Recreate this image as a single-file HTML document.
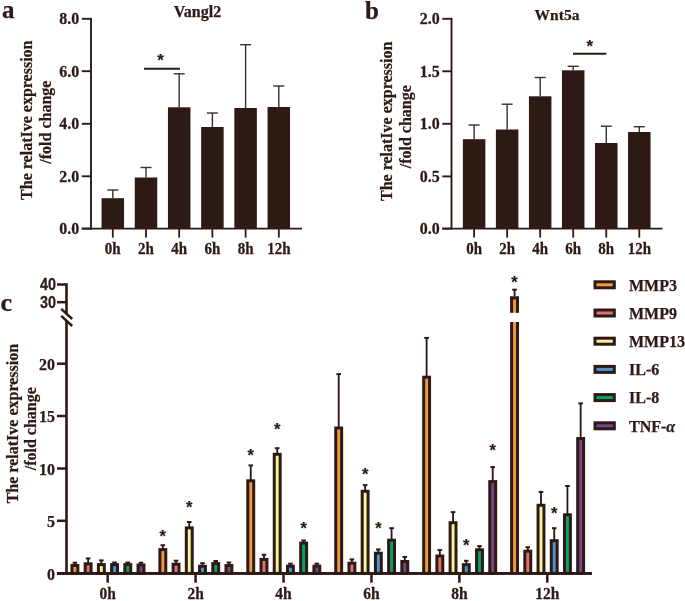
<!DOCTYPE html>
<html><head><meta charset="utf-8"><style>
html,body{margin:0;padding:0;background:#fff;}
svg{display:block;will-change:transform;}
text{stroke:#2d1a14;stroke-width:0.25px;}
</style></head><body>
<svg width="685" height="601" viewBox="0 0 685 601">
<rect width="685" height="601" fill="#fff"/>
<line x1="91.00" y1="17.90" x2="91.00" y2="229.50" stroke="#2d1a14" stroke-width="1.9" />
<line x1="81.80" y1="18.80" x2="91.00" y2="18.80" stroke="#2d1a14" stroke-width="1.9" />
<text transform="translate(79.20,24.30) scale(1,1.045)" font-family="Liberation Serif" font-size="16" font-weight="bold" text-anchor="end" fill="#2d1a14" >8.0</text>
<line x1="81.80" y1="71.20" x2="91.00" y2="71.20" stroke="#2d1a14" stroke-width="1.9" />
<text transform="translate(79.20,76.70) scale(1,1.045)" font-family="Liberation Serif" font-size="16" font-weight="bold" text-anchor="end" fill="#2d1a14" >6.0</text>
<line x1="81.80" y1="123.80" x2="91.00" y2="123.80" stroke="#2d1a14" stroke-width="1.9" />
<text transform="translate(79.20,129.30) scale(1,1.045)" font-family="Liberation Serif" font-size="16" font-weight="bold" text-anchor="end" fill="#2d1a14" >4.0</text>
<line x1="81.80" y1="176.30" x2="91.00" y2="176.30" stroke="#2d1a14" stroke-width="1.9" />
<text transform="translate(79.20,181.80) scale(1,1.045)" font-family="Liberation Serif" font-size="16" font-weight="bold" text-anchor="end" fill="#2d1a14" >2.0</text>
<line x1="81.80" y1="228.60" x2="91.00" y2="228.60" stroke="#2d1a14" stroke-width="1.9" />
<text transform="translate(79.20,234.10) scale(1,1.045)" font-family="Liberation Serif" font-size="16" font-weight="bold" text-anchor="end" fill="#2d1a14" >0.0</text>
<line x1="81.80" y1="228.60" x2="302.00" y2="228.60" stroke="#2d1a14" stroke-width="1.9" />
<line x1="112.80" y1="190.00" x2="112.80" y2="198.20" stroke="#3d2d2a" stroke-width="1.4" />
<line x1="107.30" y1="190.00" x2="118.30" y2="190.00" stroke="#3d2d2a" stroke-width="1.4" />
<rect x="101.55" y="198.20" width="22.50" height="30.40" fill="#2d1a14"/>
<line x1="112.80" y1="228.60" x2="112.80" y2="237.60" stroke="#2d1a14" stroke-width="1.8" />
<text transform="translate(112.80,254.20) scale(1,1.08)" font-family="Liberation Serif" font-size="15" font-weight="bold" text-anchor="middle" fill="#2d1a14" >0h</text>
<line x1="146.00" y1="167.50" x2="146.00" y2="177.50" stroke="#3d2d2a" stroke-width="1.4" />
<line x1="140.50" y1="167.50" x2="151.50" y2="167.50" stroke="#3d2d2a" stroke-width="1.4" />
<rect x="134.75" y="177.50" width="22.50" height="51.10" fill="#2d1a14"/>
<line x1="146.00" y1="228.60" x2="146.00" y2="237.60" stroke="#2d1a14" stroke-width="1.8" />
<text transform="translate(146.00,254.20) scale(1,1.08)" font-family="Liberation Serif" font-size="15" font-weight="bold" text-anchor="middle" fill="#2d1a14" >2h</text>
<line x1="179.20" y1="73.80" x2="179.20" y2="107.30" stroke="#3d2d2a" stroke-width="1.4" />
<line x1="173.70" y1="73.80" x2="184.70" y2="73.80" stroke="#3d2d2a" stroke-width="1.4" />
<rect x="167.95" y="107.30" width="22.50" height="121.30" fill="#2d1a14"/>
<line x1="179.20" y1="228.60" x2="179.20" y2="237.60" stroke="#2d1a14" stroke-width="1.8" />
<text transform="translate(179.20,254.20) scale(1,1.08)" font-family="Liberation Serif" font-size="15" font-weight="bold" text-anchor="middle" fill="#2d1a14" >4h</text>
<line x1="212.40" y1="113.00" x2="212.40" y2="127.00" stroke="#3d2d2a" stroke-width="1.4" />
<line x1="206.90" y1="113.00" x2="217.90" y2="113.00" stroke="#3d2d2a" stroke-width="1.4" />
<rect x="201.15" y="127.00" width="22.50" height="101.60" fill="#2d1a14"/>
<line x1="212.40" y1="228.60" x2="212.40" y2="237.60" stroke="#2d1a14" stroke-width="1.8" />
<text transform="translate(212.40,254.20) scale(1,1.08)" font-family="Liberation Serif" font-size="15" font-weight="bold" text-anchor="middle" fill="#2d1a14" >6h</text>
<line x1="245.60" y1="44.70" x2="245.60" y2="108.00" stroke="#3d2d2a" stroke-width="1.4" />
<line x1="240.10" y1="44.70" x2="251.10" y2="44.70" stroke="#3d2d2a" stroke-width="1.4" />
<rect x="234.35" y="108.00" width="22.50" height="120.60" fill="#2d1a14"/>
<line x1="245.60" y1="228.60" x2="245.60" y2="237.60" stroke="#2d1a14" stroke-width="1.8" />
<text transform="translate(245.60,254.20) scale(1,1.08)" font-family="Liberation Serif" font-size="15" font-weight="bold" text-anchor="middle" fill="#2d1a14" >8h</text>
<line x1="278.80" y1="86.00" x2="278.80" y2="107.00" stroke="#3d2d2a" stroke-width="1.4" />
<line x1="273.30" y1="86.00" x2="284.30" y2="86.00" stroke="#3d2d2a" stroke-width="1.4" />
<rect x="267.55" y="107.00" width="22.50" height="121.60" fill="#2d1a14"/>
<line x1="278.80" y1="228.60" x2="278.80" y2="237.60" stroke="#2d1a14" stroke-width="1.8" />
<text transform="translate(278.80,254.20) scale(1,1.08)" font-family="Liberation Serif" font-size="15" font-weight="bold" text-anchor="middle" fill="#2d1a14" >12h</text>
<line x1="144.00" y1="68.80" x2="180.00" y2="68.80" stroke="#2d1a14" stroke-width="2.0" />
<text x="160.55" y="66.27" font-family="Liberation Sans" font-size="17" font-weight="bold" text-anchor="middle" fill="#2d1a14" >*</text>
<text x="197.50" y="17.30" font-family="Liberation Serif" font-size="16" font-weight="bold" text-anchor="middle" fill="#2d1a14" >Vangl2</text>
<line x1="451.50" y1="17.90" x2="451.50" y2="229.50" stroke="#2d1a14" stroke-width="1.9" />
<line x1="442.30" y1="18.80" x2="451.50" y2="18.80" stroke="#2d1a14" stroke-width="1.9" />
<text transform="translate(439.70,24.30) scale(1,1.045)" font-family="Liberation Serif" font-size="16" font-weight="bold" text-anchor="end" fill="#2d1a14" >2.0</text>
<line x1="442.30" y1="71.30" x2="451.50" y2="71.30" stroke="#2d1a14" stroke-width="1.9" />
<text transform="translate(439.70,76.80) scale(1,1.045)" font-family="Liberation Serif" font-size="16" font-weight="bold" text-anchor="end" fill="#2d1a14" >1.5</text>
<line x1="442.30" y1="123.80" x2="451.50" y2="123.80" stroke="#2d1a14" stroke-width="1.9" />
<text transform="translate(439.70,129.30) scale(1,1.045)" font-family="Liberation Serif" font-size="16" font-weight="bold" text-anchor="end" fill="#2d1a14" >1.0</text>
<line x1="442.30" y1="176.40" x2="451.50" y2="176.40" stroke="#2d1a14" stroke-width="1.9" />
<text transform="translate(439.70,181.90) scale(1,1.045)" font-family="Liberation Serif" font-size="16" font-weight="bold" text-anchor="end" fill="#2d1a14" >0.5</text>
<line x1="442.30" y1="228.60" x2="451.50" y2="228.60" stroke="#2d1a14" stroke-width="1.9" />
<text transform="translate(439.70,234.10) scale(1,1.045)" font-family="Liberation Serif" font-size="16" font-weight="bold" text-anchor="end" fill="#2d1a14" >0.0</text>
<line x1="442.30" y1="228.60" x2="662.50" y2="228.60" stroke="#2d1a14" stroke-width="1.9" />
<line x1="474.10" y1="125.00" x2="474.10" y2="139.20" stroke="#3d2d2a" stroke-width="1.4" />
<line x1="468.60" y1="125.00" x2="479.60" y2="125.00" stroke="#3d2d2a" stroke-width="1.4" />
<rect x="462.85" y="139.20" width="22.50" height="89.40" fill="#2d1a14"/>
<line x1="474.10" y1="228.60" x2="474.10" y2="237.60" stroke="#2d1a14" stroke-width="1.8" />
<text transform="translate(474.10,254.20) scale(1,1.08)" font-family="Liberation Serif" font-size="15" font-weight="bold" text-anchor="middle" fill="#2d1a14" >0h</text>
<line x1="507.14" y1="104.20" x2="507.14" y2="129.50" stroke="#3d2d2a" stroke-width="1.4" />
<line x1="501.64" y1="104.20" x2="512.64" y2="104.20" stroke="#3d2d2a" stroke-width="1.4" />
<rect x="495.89" y="129.50" width="22.50" height="99.10" fill="#2d1a14"/>
<line x1="507.14" y1="228.60" x2="507.14" y2="237.60" stroke="#2d1a14" stroke-width="1.8" />
<text transform="translate(507.14,254.20) scale(1,1.08)" font-family="Liberation Serif" font-size="15" font-weight="bold" text-anchor="middle" fill="#2d1a14" >2h</text>
<line x1="540.18" y1="77.50" x2="540.18" y2="96.30" stroke="#3d2d2a" stroke-width="1.4" />
<line x1="534.68" y1="77.50" x2="545.68" y2="77.50" stroke="#3d2d2a" stroke-width="1.4" />
<rect x="528.93" y="96.30" width="22.50" height="132.30" fill="#2d1a14"/>
<line x1="540.18" y1="228.60" x2="540.18" y2="237.60" stroke="#2d1a14" stroke-width="1.8" />
<text transform="translate(540.18,254.20) scale(1,1.08)" font-family="Liberation Serif" font-size="15" font-weight="bold" text-anchor="middle" fill="#2d1a14" >4h</text>
<line x1="573.22" y1="66.30" x2="573.22" y2="70.30" stroke="#3d2d2a" stroke-width="1.4" />
<line x1="567.72" y1="66.30" x2="578.72" y2="66.30" stroke="#3d2d2a" stroke-width="1.4" />
<rect x="561.97" y="70.30" width="22.50" height="158.30" fill="#2d1a14"/>
<line x1="573.22" y1="228.60" x2="573.22" y2="237.60" stroke="#2d1a14" stroke-width="1.8" />
<text transform="translate(573.22,254.20) scale(1,1.08)" font-family="Liberation Serif" font-size="15" font-weight="bold" text-anchor="middle" fill="#2d1a14" >6h</text>
<line x1="606.26" y1="126.20" x2="606.26" y2="143.00" stroke="#3d2d2a" stroke-width="1.4" />
<line x1="600.76" y1="126.20" x2="611.76" y2="126.20" stroke="#3d2d2a" stroke-width="1.4" />
<rect x="595.01" y="143.00" width="22.50" height="85.60" fill="#2d1a14"/>
<line x1="606.26" y1="228.60" x2="606.26" y2="237.60" stroke="#2d1a14" stroke-width="1.8" />
<text transform="translate(606.26,254.20) scale(1,1.08)" font-family="Liberation Serif" font-size="15" font-weight="bold" text-anchor="middle" fill="#2d1a14" >8h</text>
<line x1="639.30" y1="126.70" x2="639.30" y2="132.00" stroke="#3d2d2a" stroke-width="1.4" />
<line x1="633.80" y1="126.70" x2="644.80" y2="126.70" stroke="#3d2d2a" stroke-width="1.4" />
<rect x="628.05" y="132.00" width="22.50" height="96.60" fill="#2d1a14"/>
<line x1="639.30" y1="228.60" x2="639.30" y2="237.60" stroke="#2d1a14" stroke-width="1.8" />
<text transform="translate(639.30,254.20) scale(1,1.08)" font-family="Liberation Serif" font-size="15" font-weight="bold" text-anchor="middle" fill="#2d1a14" >12h</text>
<line x1="573.00" y1="53.80" x2="606.30" y2="53.80" stroke="#2d1a14" stroke-width="2.0" />
<text x="589.80" y="51.97" font-family="Liberation Sans" font-size="17" font-weight="bold" text-anchor="middle" fill="#2d1a14" >*</text>
<text x="557.00" y="19.60" font-family="Liberation Serif" font-size="15.5" font-weight="bold" text-anchor="middle" fill="#2d1a14" >Wnt5a</text>
<text transform="translate(31.5,120.2) rotate(-90)" font-family="Liberation Serif" font-size="16" font-weight="bold" text-anchor="middle" fill="#2d1a14">The relatIve expression</text>
<text transform="translate(50.5,122.1) rotate(-90)" font-family="Liberation Serif" font-size="16" font-weight="bold" text-anchor="middle" fill="#2d1a14">/fold change</text>
<text transform="translate(392.2,121.3) rotate(-90)" font-family="Liberation Serif" font-size="16" font-weight="bold" text-anchor="middle" fill="#2d1a14">The relatIve expression</text>
<text transform="translate(411.0,126.7) rotate(-90)" font-family="Liberation Serif" font-size="16" font-weight="bold" text-anchor="middle" fill="#2d1a14">/fold change</text>
<text transform="translate(17.9,423.6) rotate(-90)" font-family="Liberation Serif" font-size="16" font-weight="bold" text-anchor="middle" fill="#2d1a14">The relatIve expression</text>
<text transform="translate(36.2,428.7) rotate(-90)" font-family="Liberation Serif" font-size="16" font-weight="bold" text-anchor="middle" fill="#2d1a14">/fold change</text>
<text x="2.00" y="18.00" font-family="Liberation Serif" font-size="25" font-weight="bold" text-anchor="start" fill="#2d1a14" >a</text>
<text x="364.90" y="19.00" font-family="Liberation Serif" font-size="25" font-weight="bold" text-anchor="start" fill="#2d1a14" >b</text>
<text x="0.60" y="311.10" font-family="Liberation Serif" font-size="26" font-weight="bold" text-anchor="start" fill="#2d1a14" >c</text>
<line x1="66.50" y1="283.30" x2="66.50" y2="313.50" stroke="#2d1a14" stroke-width="2.6" />
<line x1="66.50" y1="320.50" x2="66.50" y2="574.70" stroke="#2d1a14" stroke-width="2.6" />
<line x1="61.20" y1="308.80" x2="72.20" y2="319.00" stroke="#2d1a14" stroke-width="2.4" />
<line x1="61.20" y1="315.80" x2="72.20" y2="326.00" stroke="#2d1a14" stroke-width="2.4" />
<line x1="57.00" y1="284.50" x2="66.50" y2="284.50" stroke="#2d1a14" stroke-width="2.5" />
<text transform="translate(56.10,290.30) scale(1,1.1)" font-family="Liberation Sans" font-size="14.4" font-weight="bold" text-anchor="end" fill="#2d1a14" >40</text>
<line x1="57.00" y1="302.20" x2="66.50" y2="302.20" stroke="#2d1a14" stroke-width="2.5" />
<text transform="translate(56.10,308.00) scale(1,1.1)" font-family="Liberation Sans" font-size="14.4" font-weight="bold" text-anchor="end" fill="#2d1a14" >30</text>
<line x1="57.00" y1="363.70" x2="66.50" y2="363.70" stroke="#2d1a14" stroke-width="2.5" />
<text x="55.00" y="369.90" font-family="Liberation Serif" font-size="16" font-weight="bold" text-anchor="end" fill="#2d1a14" >20</text>
<line x1="57.00" y1="416.00" x2="66.50" y2="416.00" stroke="#2d1a14" stroke-width="2.5" />
<text x="55.00" y="422.20" font-family="Liberation Serif" font-size="16" font-weight="bold" text-anchor="end" fill="#2d1a14" >15</text>
<line x1="57.00" y1="468.50" x2="66.50" y2="468.50" stroke="#2d1a14" stroke-width="2.5" />
<text x="55.00" y="474.70" font-family="Liberation Serif" font-size="16" font-weight="bold" text-anchor="end" fill="#2d1a14" >10</text>
<line x1="57.00" y1="520.80" x2="66.50" y2="520.80" stroke="#2d1a14" stroke-width="2.5" />
<text x="55.00" y="527.00" font-family="Liberation Serif" font-size="16" font-weight="bold" text-anchor="end" fill="#2d1a14" >5</text>
<line x1="57.00" y1="573.30" x2="66.50" y2="573.30" stroke="#2d1a14" stroke-width="2.5" />
<text x="55.00" y="579.50" font-family="Liberation Serif" font-size="16" font-weight="bold" text-anchor="end" fill="#2d1a14" >0</text>
<line x1="57.00" y1="573.40" x2="591.80" y2="573.40" stroke="#2d1a14" stroke-width="2.6" />
<line x1="74.90" y1="562.50" x2="74.90" y2="565.00" stroke="#2d1a14" stroke-width="1.85" />
<line x1="72.60" y1="562.70" x2="77.20" y2="562.70" stroke="#2d1a14" stroke-width="2.0" />
<rect x="71.95" y="565.50" width="5.90" height="7.90" fill="#ef9a3e" stroke="#2d1a14" stroke-width="3.0"/>
<line x1="88.12" y1="558.20" x2="88.12" y2="563.30" stroke="#2d1a14" stroke-width="1.85" />
<line x1="85.82" y1="558.40" x2="90.42" y2="558.40" stroke="#2d1a14" stroke-width="2.0" />
<rect x="85.17" y="563.80" width="5.90" height="9.60" fill="#e27272" stroke="#2d1a14" stroke-width="3.0"/>
<line x1="101.34" y1="560.20" x2="101.34" y2="564.10" stroke="#2d1a14" stroke-width="1.85" />
<line x1="99.04" y1="560.40" x2="103.64" y2="560.40" stroke="#2d1a14" stroke-width="2.0" />
<rect x="98.39" y="564.60" width="5.90" height="8.80" fill="#f8f49a" stroke="#2d1a14" stroke-width="3.0"/>
<line x1="114.56" y1="562.30" x2="114.56" y2="564.10" stroke="#2d1a14" stroke-width="1.85" />
<line x1="112.26" y1="562.50" x2="116.86" y2="562.50" stroke="#2d1a14" stroke-width="2.0" />
<rect x="111.61" y="564.60" width="5.90" height="8.80" fill="#5291d3" stroke="#2d1a14" stroke-width="3.0"/>
<line x1="127.78" y1="562.30" x2="127.78" y2="564.10" stroke="#2d1a14" stroke-width="1.85" />
<line x1="125.48" y1="562.50" x2="130.08" y2="562.50" stroke="#2d1a14" stroke-width="2.0" />
<rect x="124.83" y="564.60" width="5.90" height="8.80" fill="#06a464" stroke="#2d1a14" stroke-width="3.0"/>
<line x1="141.00" y1="562.50" x2="141.00" y2="564.50" stroke="#2d1a14" stroke-width="1.85" />
<line x1="138.70" y1="562.70" x2="143.30" y2="562.70" stroke="#2d1a14" stroke-width="2.0" />
<rect x="138.05" y="565.00" width="5.90" height="8.40" fill="#7a448a" stroke="#2d1a14" stroke-width="3.0"/>
<line x1="107.65" y1="573.40" x2="107.65" y2="582.70" stroke="#2d1a14" stroke-width="2.5" />
<text transform="translate(107.65,599.40) scale(1,1.07)" font-family="Liberation Serif" font-size="15.5" font-weight="bold" text-anchor="middle" fill="#2d1a14" >0h</text>
<line x1="162.83" y1="545.00" x2="162.83" y2="549.10" stroke="#2d1a14" stroke-width="1.85" />
<line x1="160.53" y1="545.20" x2="165.13" y2="545.20" stroke="#2d1a14" stroke-width="2.0" />
<rect x="159.88" y="549.60" width="5.90" height="23.80" fill="#ef9a3e" stroke="#2d1a14" stroke-width="3.0"/>
<line x1="176.05" y1="560.50" x2="176.05" y2="563.70" stroke="#2d1a14" stroke-width="1.85" />
<line x1="173.75" y1="560.70" x2="178.35" y2="560.70" stroke="#2d1a14" stroke-width="2.0" />
<rect x="173.10" y="564.20" width="5.90" height="9.20" fill="#e27272" stroke="#2d1a14" stroke-width="3.0"/>
<line x1="189.27" y1="521.80" x2="189.27" y2="527.40" stroke="#2d1a14" stroke-width="1.85" />
<line x1="186.97" y1="522.00" x2="191.57" y2="522.00" stroke="#2d1a14" stroke-width="2.0" />
<rect x="186.32" y="527.90" width="5.90" height="45.50" fill="#f8f49a" stroke="#2d1a14" stroke-width="3.0"/>
<line x1="202.49" y1="563.00" x2="202.49" y2="565.80" stroke="#2d1a14" stroke-width="1.85" />
<line x1="200.19" y1="563.20" x2="204.79" y2="563.20" stroke="#2d1a14" stroke-width="2.0" />
<rect x="199.54" y="566.30" width="5.90" height="7.10" fill="#5291d3" stroke="#2d1a14" stroke-width="3.0"/>
<line x1="215.71" y1="560.80" x2="215.71" y2="563.10" stroke="#2d1a14" stroke-width="1.85" />
<line x1="213.41" y1="561.00" x2="218.01" y2="561.00" stroke="#2d1a14" stroke-width="2.0" />
<rect x="212.76" y="563.60" width="5.90" height="9.80" fill="#06a464" stroke="#2d1a14" stroke-width="3.0"/>
<line x1="228.93" y1="562.30" x2="228.93" y2="565.00" stroke="#2d1a14" stroke-width="1.85" />
<line x1="226.63" y1="562.50" x2="231.23" y2="562.50" stroke="#2d1a14" stroke-width="2.0" />
<rect x="225.98" y="565.50" width="5.90" height="7.90" fill="#7a448a" stroke="#2d1a14" stroke-width="3.0"/>
<line x1="195.58" y1="573.40" x2="195.58" y2="582.70" stroke="#2d1a14" stroke-width="2.5" />
<text transform="translate(195.58,599.40) scale(1,1.07)" font-family="Liberation Serif" font-size="15.5" font-weight="bold" text-anchor="middle" fill="#2d1a14" >2h</text>
<line x1="250.76" y1="465.20" x2="250.76" y2="480.30" stroke="#2d1a14" stroke-width="1.85" />
<line x1="248.46" y1="465.40" x2="253.06" y2="465.40" stroke="#2d1a14" stroke-width="2.0" />
<rect x="247.81" y="480.80" width="5.90" height="92.60" fill="#ef9a3e" stroke="#2d1a14" stroke-width="3.0"/>
<line x1="263.98" y1="554.60" x2="263.98" y2="558.90" stroke="#2d1a14" stroke-width="1.85" />
<line x1="261.68" y1="554.80" x2="266.28" y2="554.80" stroke="#2d1a14" stroke-width="2.0" />
<rect x="261.03" y="559.40" width="5.90" height="14.00" fill="#e27272" stroke="#2d1a14" stroke-width="3.0"/>
<line x1="277.20" y1="448.00" x2="277.20" y2="453.80" stroke="#2d1a14" stroke-width="1.85" />
<line x1="274.90" y1="448.20" x2="279.50" y2="448.20" stroke="#2d1a14" stroke-width="2.0" />
<rect x="274.25" y="454.30" width="5.90" height="119.10" fill="#f8f49a" stroke="#2d1a14" stroke-width="3.0"/>
<line x1="290.42" y1="563.50" x2="290.42" y2="565.70" stroke="#2d1a14" stroke-width="1.85" />
<line x1="288.12" y1="563.70" x2="292.72" y2="563.70" stroke="#2d1a14" stroke-width="2.0" />
<rect x="287.47" y="566.20" width="5.90" height="7.20" fill="#5291d3" stroke="#2d1a14" stroke-width="3.0"/>
<line x1="303.64" y1="540.30" x2="303.64" y2="542.60" stroke="#2d1a14" stroke-width="1.85" />
<line x1="301.34" y1="540.50" x2="305.94" y2="540.50" stroke="#2d1a14" stroke-width="2.0" />
<rect x="300.69" y="543.10" width="5.90" height="30.30" fill="#06a464" stroke="#2d1a14" stroke-width="3.0"/>
<line x1="316.86" y1="563.50" x2="316.86" y2="565.70" stroke="#2d1a14" stroke-width="1.85" />
<line x1="314.56" y1="563.70" x2="319.16" y2="563.70" stroke="#2d1a14" stroke-width="2.0" />
<rect x="313.91" y="566.20" width="5.90" height="7.20" fill="#7a448a" stroke="#2d1a14" stroke-width="3.0"/>
<line x1="283.51" y1="573.40" x2="283.51" y2="582.70" stroke="#2d1a14" stroke-width="2.5" />
<text transform="translate(283.51,599.40) scale(1,1.07)" font-family="Liberation Serif" font-size="15.5" font-weight="bold" text-anchor="middle" fill="#2d1a14" >4h</text>
<line x1="338.69" y1="373.90" x2="338.69" y2="427.50" stroke="#2d1a14" stroke-width="1.85" />
<line x1="336.39" y1="374.10" x2="340.99" y2="374.10" stroke="#2d1a14" stroke-width="2.0" />
<rect x="335.74" y="428.00" width="5.90" height="145.40" fill="#ef9a3e" stroke="#2d1a14" stroke-width="3.0"/>
<line x1="351.91" y1="559.20" x2="351.91" y2="562.70" stroke="#2d1a14" stroke-width="1.85" />
<line x1="349.61" y1="559.40" x2="354.21" y2="559.40" stroke="#2d1a14" stroke-width="2.0" />
<rect x="348.96" y="563.20" width="5.90" height="10.20" fill="#e27272" stroke="#2d1a14" stroke-width="3.0"/>
<line x1="365.13" y1="484.90" x2="365.13" y2="490.80" stroke="#2d1a14" stroke-width="1.85" />
<line x1="362.83" y1="485.10" x2="367.43" y2="485.10" stroke="#2d1a14" stroke-width="2.0" />
<rect x="362.18" y="491.30" width="5.90" height="82.10" fill="#f8f49a" stroke="#2d1a14" stroke-width="3.0"/>
<line x1="378.35" y1="549.20" x2="378.35" y2="552.70" stroke="#2d1a14" stroke-width="1.85" />
<line x1="376.05" y1="549.40" x2="380.65" y2="549.40" stroke="#2d1a14" stroke-width="2.0" />
<rect x="375.40" y="553.20" width="5.90" height="20.20" fill="#5291d3" stroke="#2d1a14" stroke-width="3.0"/>
<line x1="391.57" y1="528.00" x2="391.57" y2="539.70" stroke="#2d1a14" stroke-width="1.85" />
<line x1="389.27" y1="528.20" x2="393.87" y2="528.20" stroke="#2d1a14" stroke-width="2.0" />
<rect x="388.62" y="540.20" width="5.90" height="33.20" fill="#06a464" stroke="#2d1a14" stroke-width="3.0"/>
<line x1="404.79" y1="556.70" x2="404.79" y2="561.00" stroke="#2d1a14" stroke-width="1.85" />
<line x1="402.49" y1="556.90" x2="407.09" y2="556.90" stroke="#2d1a14" stroke-width="2.0" />
<rect x="401.84" y="561.50" width="5.90" height="11.90" fill="#7a448a" stroke="#2d1a14" stroke-width="3.0"/>
<line x1="371.44" y1="573.40" x2="371.44" y2="582.70" stroke="#2d1a14" stroke-width="2.5" />
<text transform="translate(371.44,599.40) scale(1,1.07)" font-family="Liberation Serif" font-size="15.5" font-weight="bold" text-anchor="middle" fill="#2d1a14" >6h</text>
<line x1="426.62" y1="337.70" x2="426.62" y2="376.70" stroke="#2d1a14" stroke-width="1.85" />
<line x1="424.32" y1="337.90" x2="428.92" y2="337.90" stroke="#2d1a14" stroke-width="2.0" />
<rect x="423.67" y="377.20" width="5.90" height="196.20" fill="#ef9a3e" stroke="#2d1a14" stroke-width="3.0"/>
<line x1="439.84" y1="549.80" x2="439.84" y2="555.50" stroke="#2d1a14" stroke-width="1.85" />
<line x1="437.54" y1="550.00" x2="442.14" y2="550.00" stroke="#2d1a14" stroke-width="2.0" />
<rect x="436.89" y="556.00" width="5.90" height="17.40" fill="#e27272" stroke="#2d1a14" stroke-width="3.0"/>
<line x1="453.06" y1="511.90" x2="453.06" y2="522.20" stroke="#2d1a14" stroke-width="1.85" />
<line x1="450.76" y1="512.10" x2="455.36" y2="512.10" stroke="#2d1a14" stroke-width="2.0" />
<rect x="450.11" y="522.70" width="5.90" height="50.70" fill="#f8f49a" stroke="#2d1a14" stroke-width="3.0"/>
<line x1="466.28" y1="560.60" x2="466.28" y2="564.20" stroke="#2d1a14" stroke-width="1.85" />
<line x1="463.98" y1="560.80" x2="468.58" y2="560.80" stroke="#2d1a14" stroke-width="2.0" />
<rect x="463.33" y="564.70" width="5.90" height="8.70" fill="#5291d3" stroke="#2d1a14" stroke-width="3.0"/>
<line x1="479.50" y1="545.90" x2="479.50" y2="549.30" stroke="#2d1a14" stroke-width="1.85" />
<line x1="477.20" y1="546.10" x2="481.80" y2="546.10" stroke="#2d1a14" stroke-width="2.0" />
<rect x="476.55" y="549.80" width="5.90" height="23.60" fill="#06a464" stroke="#2d1a14" stroke-width="3.0"/>
<line x1="492.72" y1="466.90" x2="492.72" y2="481.10" stroke="#2d1a14" stroke-width="1.85" />
<line x1="490.42" y1="467.10" x2="495.02" y2="467.10" stroke="#2d1a14" stroke-width="2.0" />
<rect x="489.77" y="481.60" width="5.90" height="91.80" fill="#7a448a" stroke="#2d1a14" stroke-width="3.0"/>
<line x1="459.37" y1="573.40" x2="459.37" y2="582.70" stroke="#2d1a14" stroke-width="2.5" />
<text transform="translate(459.37,599.40) scale(1,1.07)" font-family="Liberation Serif" font-size="15.5" font-weight="bold" text-anchor="middle" fill="#2d1a14" >8h</text>
<line x1="514.55" y1="289.50" x2="514.55" y2="297.50" stroke="#2d1a14" stroke-width="1.85" />
<line x1="512.25" y1="289.70" x2="516.85" y2="289.70" stroke="#2d1a14" stroke-width="2.0" />
<rect x="511.60" y="298.00" width="5.90" height="14.80" fill="#ef9a3e"/>
<line x1="510.10" y1="298.00" x2="519.00" y2="298.00" stroke="#2d1a14" stroke-width="3.0" />
<line x1="511.60" y1="296.50" x2="511.60" y2="312.80" stroke="#2d1a14" stroke-width="3.0" />
<line x1="517.50" y1="296.50" x2="517.50" y2="312.80" stroke="#2d1a14" stroke-width="3.0" />
<rect x="511.60" y="322.00" width="5.90" height="251.40" fill="#ef9a3e"/>
<line x1="511.60" y1="322.00" x2="511.60" y2="573.40" stroke="#2d1a14" stroke-width="3.0" />
<line x1="517.50" y1="322.00" x2="517.50" y2="573.40" stroke="#2d1a14" stroke-width="3.0" />
<line x1="527.77" y1="547.00" x2="527.77" y2="550.70" stroke="#2d1a14" stroke-width="1.85" />
<line x1="525.47" y1="547.20" x2="530.07" y2="547.20" stroke="#2d1a14" stroke-width="2.0" />
<rect x="524.82" y="551.20" width="5.90" height="22.20" fill="#e27272" stroke="#2d1a14" stroke-width="3.0"/>
<line x1="540.99" y1="491.70" x2="540.99" y2="504.80" stroke="#2d1a14" stroke-width="1.85" />
<line x1="538.69" y1="491.90" x2="543.29" y2="491.90" stroke="#2d1a14" stroke-width="2.0" />
<rect x="538.04" y="505.30" width="5.90" height="68.10" fill="#f8f49a" stroke="#2d1a14" stroke-width="3.0"/>
<line x1="554.21" y1="528.00" x2="554.21" y2="540.20" stroke="#2d1a14" stroke-width="1.85" />
<line x1="551.91" y1="528.20" x2="556.51" y2="528.20" stroke="#2d1a14" stroke-width="2.0" />
<rect x="551.26" y="540.70" width="5.90" height="32.70" fill="#5291d3" stroke="#2d1a14" stroke-width="3.0"/>
<line x1="567.43" y1="485.80" x2="567.43" y2="514.30" stroke="#2d1a14" stroke-width="1.85" />
<line x1="565.13" y1="486.00" x2="569.73" y2="486.00" stroke="#2d1a14" stroke-width="2.0" />
<rect x="564.48" y="514.80" width="5.90" height="58.60" fill="#06a464" stroke="#2d1a14" stroke-width="3.0"/>
<line x1="580.65" y1="403.20" x2="580.65" y2="438.00" stroke="#2d1a14" stroke-width="1.85" />
<line x1="578.35" y1="403.40" x2="582.95" y2="403.40" stroke="#2d1a14" stroke-width="2.0" />
<rect x="577.70" y="438.50" width="5.90" height="134.90" fill="#7a448a" stroke="#2d1a14" stroke-width="3.0"/>
<line x1="547.30" y1="573.40" x2="547.30" y2="582.70" stroke="#2d1a14" stroke-width="2.5" />
<text transform="translate(547.30,599.40) scale(1,1.07)" font-family="Liberation Serif" font-size="15.5" font-weight="bold" text-anchor="middle" fill="#2d1a14" >12h</text>
<text x="162.83" y="541.81" font-family="Liberation Sans" font-size="16.5" font-weight="bold" text-anchor="middle" fill="#2d1a14" >*</text>
<text x="189.27" y="512.81" font-family="Liberation Sans" font-size="16.5" font-weight="bold" text-anchor="middle" fill="#2d1a14" >*</text>
<text x="250.76" y="460.62" font-family="Liberation Sans" font-size="16.5" font-weight="bold" text-anchor="middle" fill="#2d1a14" >*</text>
<text x="277.20" y="435.22" font-family="Liberation Sans" font-size="16.5" font-weight="bold" text-anchor="middle" fill="#2d1a14" >*</text>
<text x="303.64" y="534.41" font-family="Liberation Sans" font-size="16.5" font-weight="bold" text-anchor="middle" fill="#2d1a14" >*</text>
<text x="365.13" y="480.42" font-family="Liberation Sans" font-size="16.5" font-weight="bold" text-anchor="middle" fill="#2d1a14" >*</text>
<text x="378.35" y="533.71" font-family="Liberation Sans" font-size="16.5" font-weight="bold" text-anchor="middle" fill="#2d1a14" >*</text>
<text x="466.28" y="551.12" font-family="Liberation Sans" font-size="16.5" font-weight="bold" text-anchor="middle" fill="#2d1a14" >*</text>
<text x="492.72" y="456.42" font-family="Liberation Sans" font-size="16.5" font-weight="bold" text-anchor="middle" fill="#2d1a14" >*</text>
<text x="514.55" y="288.22" font-family="Liberation Sans" font-size="16.5" font-weight="bold" text-anchor="middle" fill="#2d1a14" >*</text>
<text x="554.21" y="518.72" font-family="Liberation Sans" font-size="16.5" font-weight="bold" text-anchor="middle" fill="#2d1a14" >*</text>
<line x1="57.00" y1="573.40" x2="591.80" y2="573.40" stroke="#2d1a14" stroke-width="2.6" />
<rect x="595.00" y="281.80" width="19.30" height="6.00" fill="#ef9a3e" stroke="#2d1a14" stroke-width="3"/>
<text x="629.00" y="290.60" font-family="Liberation Serif" font-size="16" font-weight="bold" text-anchor="start" fill="#2d1a14" >MMP3</text>
<rect x="595.00" y="310.00" width="19.30" height="6.00" fill="#e27272" stroke="#2d1a14" stroke-width="3"/>
<text x="629.00" y="318.80" font-family="Liberation Serif" font-size="16" font-weight="bold" text-anchor="start" fill="#2d1a14" >MMP9</text>
<rect x="595.00" y="338.20" width="19.30" height="6.00" fill="#f8f49a" stroke="#2d1a14" stroke-width="3"/>
<text x="629.00" y="347.00" font-family="Liberation Serif" font-size="16" font-weight="bold" text-anchor="start" fill="#2d1a14" >MMP13</text>
<rect x="595.00" y="366.40" width="19.30" height="6.00" fill="#5291d3" stroke="#2d1a14" stroke-width="3"/>
<text x="629.00" y="375.20" font-family="Liberation Serif" font-size="16" font-weight="bold" text-anchor="start" fill="#2d1a14" >IL-6</text>
<rect x="595.00" y="394.60" width="19.30" height="6.00" fill="#06a464" stroke="#2d1a14" stroke-width="3"/>
<text x="629.00" y="403.40" font-family="Liberation Serif" font-size="16" font-weight="bold" text-anchor="start" fill="#2d1a14" >IL-8</text>
<rect x="595.00" y="422.80" width="19.30" height="6.00" fill="#7a448a" stroke="#2d1a14" stroke-width="3"/>
<text x="629.00" y="431.60" font-family="Liberation Serif" font-size="16" font-weight="bold" text-anchor="start" fill="#2d1a14" >TNF-<tspan font-style="italic">α</tspan></text>
</svg>
</body></html>
